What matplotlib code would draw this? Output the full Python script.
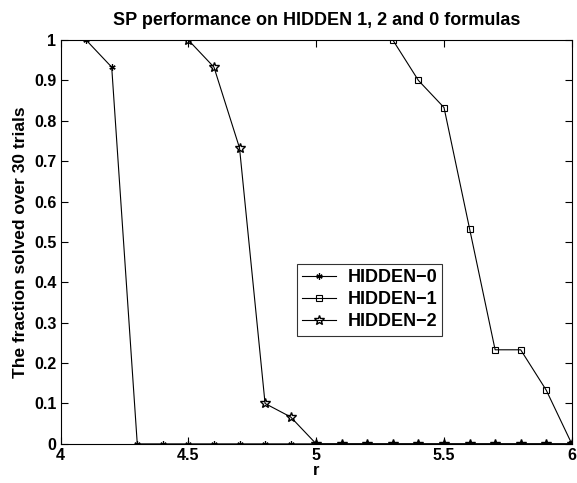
import numpy as np
import matplotlib
matplotlib.use('Agg')
import matplotlib.pyplot as plt

plt.rcParams['font.family'] = ['Liberation Sans', 'DejaVu Sans']
plt.rcParams['font.weight'] = 'bold'

# r values and fraction solved (out of 30 trials)
rHidden0 = [4.1, 4.2, 4.3, 4.4, 4.5, 4.6, 4.7, 4.8, 4.9, 5.0, 5.1, 5.2, 5.3, 5.4, 5.5, 5.6, 5.7, 5.8, 5.9, 6.0]
fracHidden0 = [1.0, 0.933, 0, 0, 0, 0, 0, 0, 0, 0, 0, 0, 0, 0, 0, 0, 0, 0, 0, 0]

rHidden1 = [5.3, 5.4, 5.5, 5.6, 5.7, 5.8, 5.9, 6.0]
fracHidden1 = [1.0, 0.9, 0.833, 0.533, 0.233, 0.233, 0.133, 0]

rHidden2 = [4.5, 4.6, 4.7, 4.8, 4.9, 5.0, 5.1, 5.2, 5.3, 5.4, 5.5, 5.6, 5.7, 5.8, 5.9, 6.0]
fracHidden2 = [1.0, 0.933, 0.733, 0.1, 0.0667, 0, 0, 0, 0, 0, 0, 0, 0, 0, 0, 0]

xTicks = [4, 4.5, 5, 5.5, 6]
xTickLabels = ['4', '4.5', '5', '5.5', '6']
yTicks = [0, 0.1, 0.2, 0.3, 0.4, 0.5, 0.6, 0.7, 0.8, 0.9, 1]
yTickLabels = ['0', '0.1', '0.2', '0.3', '0.4', '0.5', '0.6', '0.7', '0.8', '0.9', '1']

fig = plt.figure(figsize=(5.77, 4.83), dpi=100)
ax = fig.add_axes([0.105, 0.081, 0.886, 0.836])

asterisk = (6, 2, 0)
ax.plot(rHidden0, fracHidden0, color='black', lw=0.8, marker=asterisk, ms=4.5, mew=0.9, label='HIDDEN\u22120')
ax.plot(rHidden1, fracHidden1, color='black', lw=0.8, marker='s', ms=4.5, mfc='none', mew=0.8, label='HIDDEN\u22121')
ax.plot(rHidden2, fracHidden2, color='black', lw=0.8, marker='*', ms=7, mfc='none', mew=1.0, label='HIDDEN\u22122')

ax.set_xlim(4, 6)
ax.set_ylim(0, 1)
ax.set_xticks(xTicks)
ax.set_xticklabels(xTickLabels, fontsize=11.5, fontweight='bold')
ax.set_yticks(yTicks)
ax.set_yticklabels(yTickLabels, fontsize=11.5, fontweight='bold')
ax.tick_params(direction='in', top=True, right=True, length=5, width=0.8, pad=3)
for spine in ax.spines.values():
    spine.set_linewidth(0.8)

ax.set_xlabel('r', fontsize=12, fontweight='bold', labelpad=0)
ax.set_ylabel('The fraction solved over 30 trials', fontsize=12.5, fontweight='bold', labelpad=4)
ax.set_title('SP performance on HIDDEN 1, 2 and 0 formulas', fontsize=13, fontweight='bold', pad=11)

leg = ax.legend(loc='upper left', bbox_to_anchor=(0.462, 0.4455), fontsize=13, frameon=True, fancybox=False,
                edgecolor='black', handlelength=1.9, handletextpad=0.6, borderpad=0.3, labelspacing=0.27,
                borderaxespad=0)
leg.get_frame().set_linewidth(0.8)
for text in leg.get_texts():
    text.set_fontweight('bold')

plt.savefig('out.png', dpi=100)
